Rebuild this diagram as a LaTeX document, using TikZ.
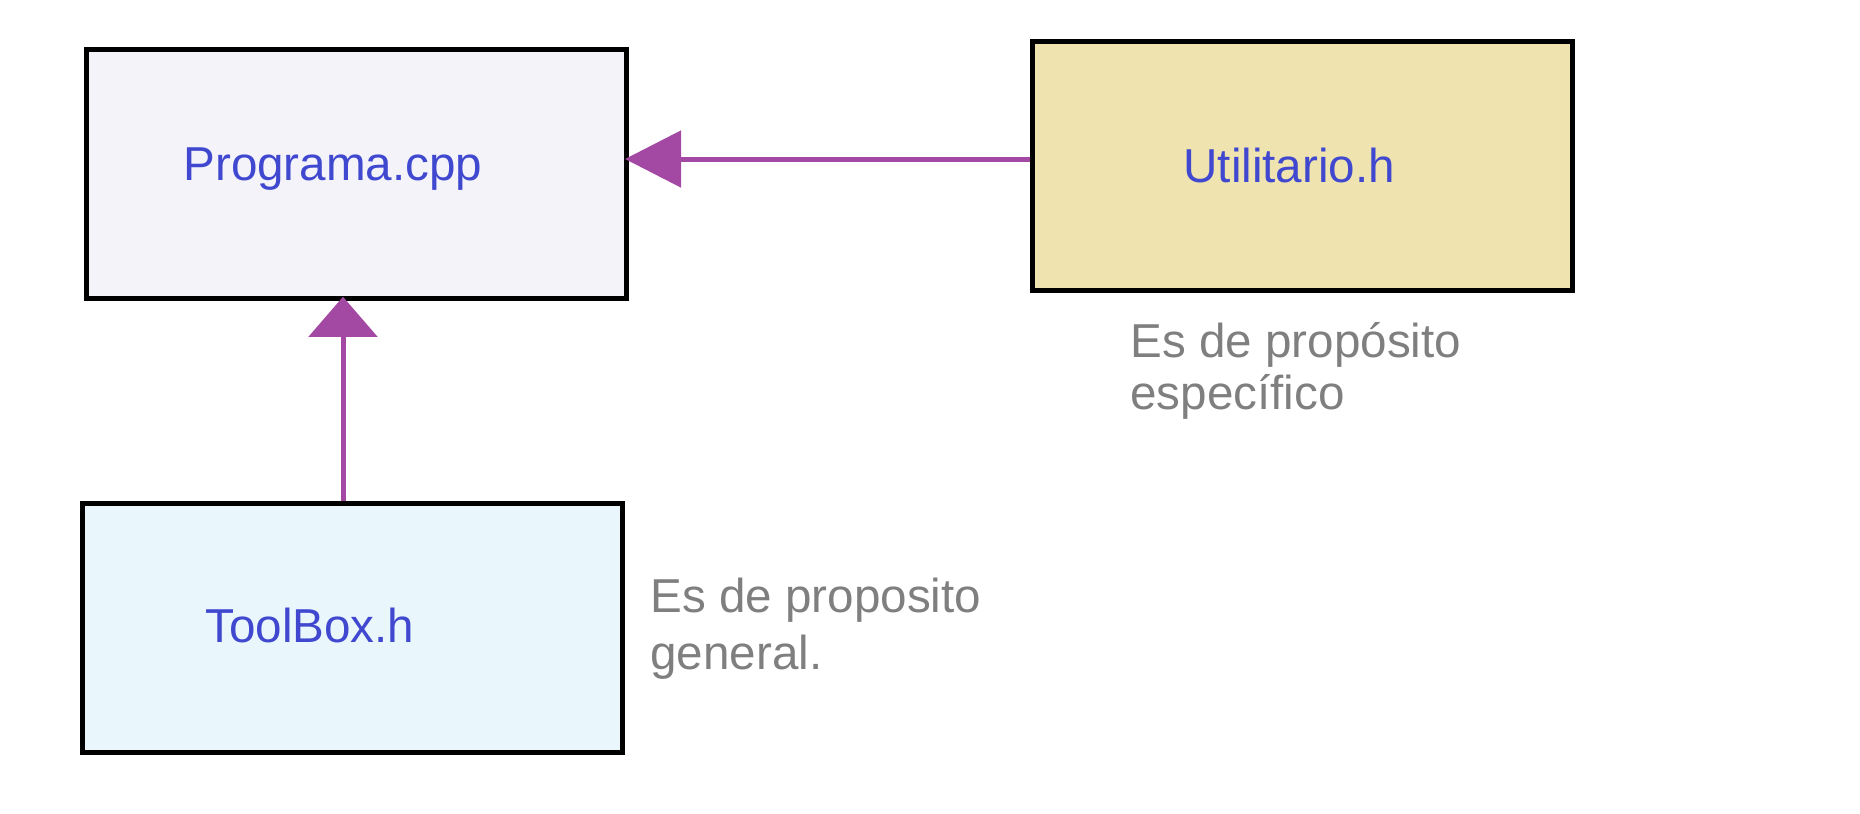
\documentclass[tikz,border=0pt]{standalone}
\usepackage{fontspec}
\setmainfont{Liberation Sans}
\usetikzlibrary{arrows.meta}
\definecolor{progfill}{HTML}{F4F3FA}
\definecolor{utilfill}{HTML}{EFE4B0}
\definecolor{toolfill}{HTML}{E9F6FB}
\definecolor{lblblue}{HTML}{4048D0}
\definecolor{notegray}{HTML}{7F7F7F}
\definecolor{connpurple}{HTML}{A349A4}
\begin{document}
\begin{tikzpicture}[x=0.5pt,y=-0.5pt,
  box/.style={draw=black,line width=2.5pt,minimum width=270pt,minimum height=124.5pt,inner sep=0pt},
  lbl/.style={font=\fontsize{23.8pt}{28pt}\selectfont,text=lblblue,inner sep=0pt,anchor=base west},
  note/.style={font=\fontsize{23.8pt}{26pt}\selectfont,text=notegray,inner sep=0pt,anchor=base west,align=left},
  conn/.style={draw=connpurple,line width=2.5pt,shorten >=-2pt}]
\useasboundingbox (0,0) rectangle (1860,814);
\node[box,fill=progfill] (prog) at (356.5,173.75) {};
\node[box,fill=utilfill] (util) at (1302,165.5) {};
\node[box,fill=toolfill] (tool) at (352,628) {};
\node[lbl] (progt) at (183,180) {Programa.cpp};
\node[lbl] (utilt) at (1183,182) {Utilitario.h};
\node[lbl] (toolt) at (205,642) {ToolBox.h};
\node[note] (noteu) at (1130,409) {Es de propósito\\específico};
\node[note,font=\fontsize{23.8pt}{28.5pt}\selectfont] (notet) at (650,669) {Es de proposito\\general.};
\coordinate (hA) at ([yshift=3.25pt]util.west);
\coordinate (vA) at ([xshift=-4.5pt]tool.north);
\draw[conn,-{Triangle[length=28pt,width=28pt]}] (hA) -- (prog.east |- hA);
\draw[conn,-{Triangle[length=20pt,width=34pt]}] (vA) -- (vA |- prog.south);
\end{tikzpicture}
\end{document}
